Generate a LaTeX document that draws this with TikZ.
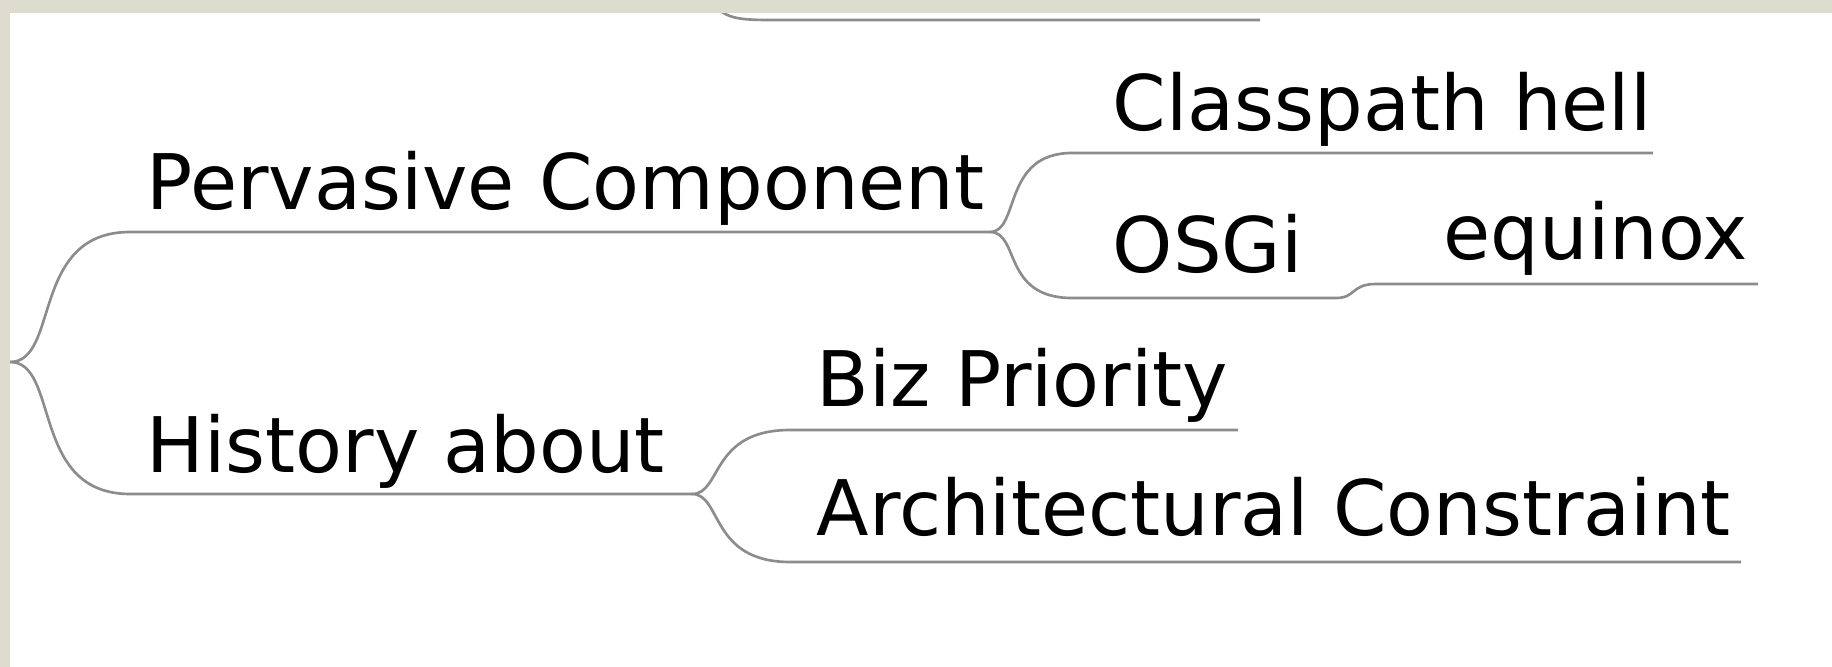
\documentclass[tikz,border=0pt]{standalone}
\usepackage{fontspec}
\setmainfont{DejaVu Sans}
\usetikzlibrary{positioning}

\definecolor{framebg}{RGB}{221,220,207}
\definecolor{branchgray}{RGB}{140,140,140}

\begin{document}
\begin{tikzpicture}[x=0.01cm, y=-0.01cm,
  topic/.style={anchor=base west, inner sep=0pt, font=\fontsize{21.8}{26}\selectfont},
  branch/.style={draw=branchgray, line width=0.75pt}]

  \useasboundingbox (0,0) rectangle (1832,667);
  \fill[white] (0,0) rectangle (1832,667);

  % topics
  \node[topic] (pc) at (146,210) {Pervasive Component};
  \node[topic] (ha) at (146,473) {History about};
  \node[topic] (cp) at (1112,131) {Classpath hell};
  \node[topic] (osgi) at (1112,273) {OSGi};
  \node[topic] (eq) at (1443,260) {equinox};
  \node[topic] (bp) at (816,407) {Biz Priority};
  \node[topic] (ac) at (816,536) {Architectural Constraint};

  % branch points
  \coordinate (root) at (10,362);
  \coordinate (pcL) at (130,232);  \coordinate (pcR) at (990,232);
  \coordinate (haL) at (130,494);  \coordinate (haR) at (692,494);
  \coordinate (cpL) at (1072,153); \coordinate (cpR) at (1653,153);
  \coordinate (osL) at (1072,298); \coordinate (osR) at (1336,298);
  \coordinate (eqL) at (1376,284); \coordinate (eqR) at (1758,284);
  \coordinate (bpL) at (790,430);  \coordinate (bpR) at (1238,430);
  \coordinate (acL) at (790,562);  \coordinate (acR) at (1741,562);
  \coordinate (topS) at (700,-30);
  \coordinate (topL) at (770,20);  \coordinate (topR) at (1260,20);

  \draw[branch] (topS) .. controls +(15,45) and +(-50,0) .. (topL) -- (topR);
  \draw[branch] (root) .. controls +(50,0) and +(-100,0) .. (pcL) -- (pcR);
  \draw[branch] (root) .. controls +(50,0) and +(-100,0) .. (haL) -- (haR);
  \draw[branch] (pcR) .. controls +(30,0) and +(-70,0) .. (cpL) -- (cpR);
  \draw[branch] (pcR) .. controls +(30,0) and +(-70,0) .. (osL) -- (osR);
  \draw[branch] (osR) .. controls +(20,0) and +(-25,0) .. (eqL) -- (eqR);
  \draw[branch] (haR) .. controls +(30,0) and +(-80,0) .. (bpL) -- (bpR);
  \draw[branch] (haR) .. controls +(30,0) and +(-80,0) .. (acL) -- (acR);

  % frame
  \fill[framebg] (0,0) rectangle (1832,13);
  \fill[framebg] (0,0) rectangle (10,667);
\end{tikzpicture}
\end{document}
